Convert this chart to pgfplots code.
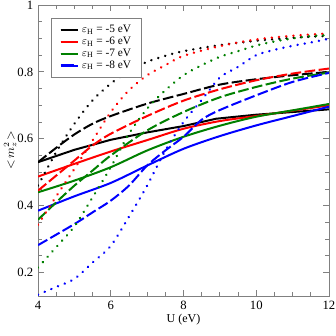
\documentclass[border=0pt]{standalone}
\usepackage{fontspec}
\setmainfont{Liberation Serif}
\usepackage{pgfplots}
\pgfplotsset{compat=1.18}
\definecolor{dgreen}{RGB}{0,128,0}
\begin{document}
\begin{tikzpicture}
\begin{axis}[
  scale only axis, width=218pt, height=218pt,
  xmin=4, xmax=12, ymin=0.13, ymax=1,
  xtick={4,6,8,10,12}, ytick={0.2,0.4,0.6,0.8,1},
  minor x tick num=3, minor y tick num=3,
  tick align=inside, major tick length=4.5pt, minor tick length=3pt,
  axis line style={gray}, every tick/.style={gray, line width=0.6pt},
  tick label style={font=\fontsize{9.5}{11}\selectfont, black},
  /pgf/number format/assume math mode=true,
  yticklabel style={/pgf/number format/fixed, /pgf/number format/precision=1},
  xlabel={U (eV)}, ylabel={$<\!m_z^2\!>$},
  label style={font=\fontsize{9}{10}\selectfont},
  xlabel style={at={(axis description cs:0.5,-0.083)}, anchor=center},
  ylabel style={at={(axis description cs:-0.096,0.5)}, anchor=center},
  legend cell align=left,
  legend style={at={(0.045,0.957)}, anchor=north west, draw=gray, line width=0.6pt,
    font=\fontsize{8.5}{9}\selectfont, row sep=-2.2pt, inner xsep=6pt, inner ysep=3.5pt},
  legend image code/.code={\draw[#1, line width=1.8pt] (0cm,0cm) -- (0.34cm,0cm); \path (0cm,0cm) -- (0.46cm,0cm);},
  every axis plot/.append style={line width=1.5pt},
  dotstyle/.style={line cap=round, dash pattern=on 0.01pt off 5.4pt, line width=2pt},
  dashstyle/.style={dash pattern=on 8pt off 2.6pt},
]
% solid
\addplot[black] coordinates {(4,0.53)(5,0.567)(6,0.597)(7,0.619)(8,0.638)(8.9,0.66)(10,0.672)(11,0.68)(12,0.688)};
\addlegendentry{$\varepsilon_{\mathrm{H}}$ = -5 eV}
\addplot[red, smooth] coordinates {(4,0.487)(5,0.525)(6,0.562)(7,0.596)(8,0.63)(9,0.653)(10,0.668)(11,0.684)(12,0.70)};
\addlegendentry{$\varepsilon_{\mathrm{H}}$ = -6 eV}
\addplot[dgreen, smooth] coordinates {(4,0.44)(5,0.475)(6,0.515)(7,0.565)(8,0.606)(9,0.639)(10,0.666)(11,0.685)(12,0.704)};
\addlegendentry{$\varepsilon_{\mathrm{H}}$ = -7 eV}
\addplot[blue, smooth] coordinates {(4,0.385)(5,0.428)(6,0.468)(7,0.52)(8,0.57)(9,0.608)(10,0.64)(11,0.668)(12,0.696)};
\addlegendentry{$\varepsilon_{\mathrm{H}}$ = -8 eV}
% dashed
\addplot[black, smooth, dashstyle, forget plot] coordinates {(4,0.53)(4.5,0.573)(5,0.613)(5.5,0.645)(6,0.668)(7,0.705)(8,0.734)(9,0.762)(10,0.778)(11,0.79)(12,0.80)};
\addplot[red, smooth, dashstyle, forget plot] coordinates {(4,0.445)(4.5,0.49)(5,0.535)(5.5,0.58)(6,0.615)(7,0.668)(8,0.714)(9,0.748)(10,0.775)(11,0.795)(12,0.81)};
\addplot[dgreen, smooth, dashstyle, forget plot] coordinates {(4,0.358)(4.5,0.41)(5,0.46)(5.5,0.505)(6,0.55)(7,0.625)(8,0.68)(9,0.724)(10,0.755)(11,0.78)(12,0.798)};
\addplot[blue, smooth, dashstyle, forget plot] coordinates {(4,0.282)(5,0.345)(5.5,0.38)(6,0.415)(6.5,0.46)(7,0.52)(7.5,0.565)(8,0.606)(8.5,0.657)(9,0.686)(10,0.73)(11,0.77)(12,0.797)};
% dotted
\addplot[black, smooth, dotstyle, forget plot] coordinates {(4,0.46)(4.5,0.56)(5,0.645)(5.5,0.715)(6,0.765)(6.5,0.803)(7,0.83)(7.5,0.848)(8,0.862)(9,0.88)(10,0.893)(11,0.902)(12,0.908)};
\addplot[red, smooth, dotstyle, forget plot] coordinates {(4,0.343)(4.5,0.428)(5,0.51)(5.5,0.595)(6,0.68)(6.5,0.745)(7,0.79)(7.5,0.82)(8,0.848)(9,0.877)(10,0.897)(11,0.908)(12,0.915)};
\addplot[dgreen, smooth, dotstyle, forget plot] coordinates {(4,0.215)(4.5,0.276)(5,0.338)(5.5,0.425)(6,0.515)(6.5,0.615)(7,0.69)(7.5,0.745)(8,0.79)(8.5,0.82)(9,0.845)(9.5,0.862)(10,0.879)(10.5,0.891)(11,0.9)(11.5,0.907)(12,0.91)};
\addplot[blue, smooth, dotstyle, forget plot] coordinates {(4,0.134)(4.5,0.157)(5,0.181)(5.5,0.23)(6,0.28)(6.5,0.367)(7,0.46)(7.5,0.565)(8,0.65)(8.5,0.716)(9,0.783)(9.5,0.815)(10,0.85)(10.5,0.866)(11,0.878)(11.5,0.888)(12,0.899)};
\end{axis}
\pgfresetboundingbox
\useasboundingbox ([shift={(-28.5pt,-30pt)}]current axis.south west) rectangle ([shift={(5.25pt,3.75pt)}]current axis.north east);
\end{tikzpicture}
\end{document}
